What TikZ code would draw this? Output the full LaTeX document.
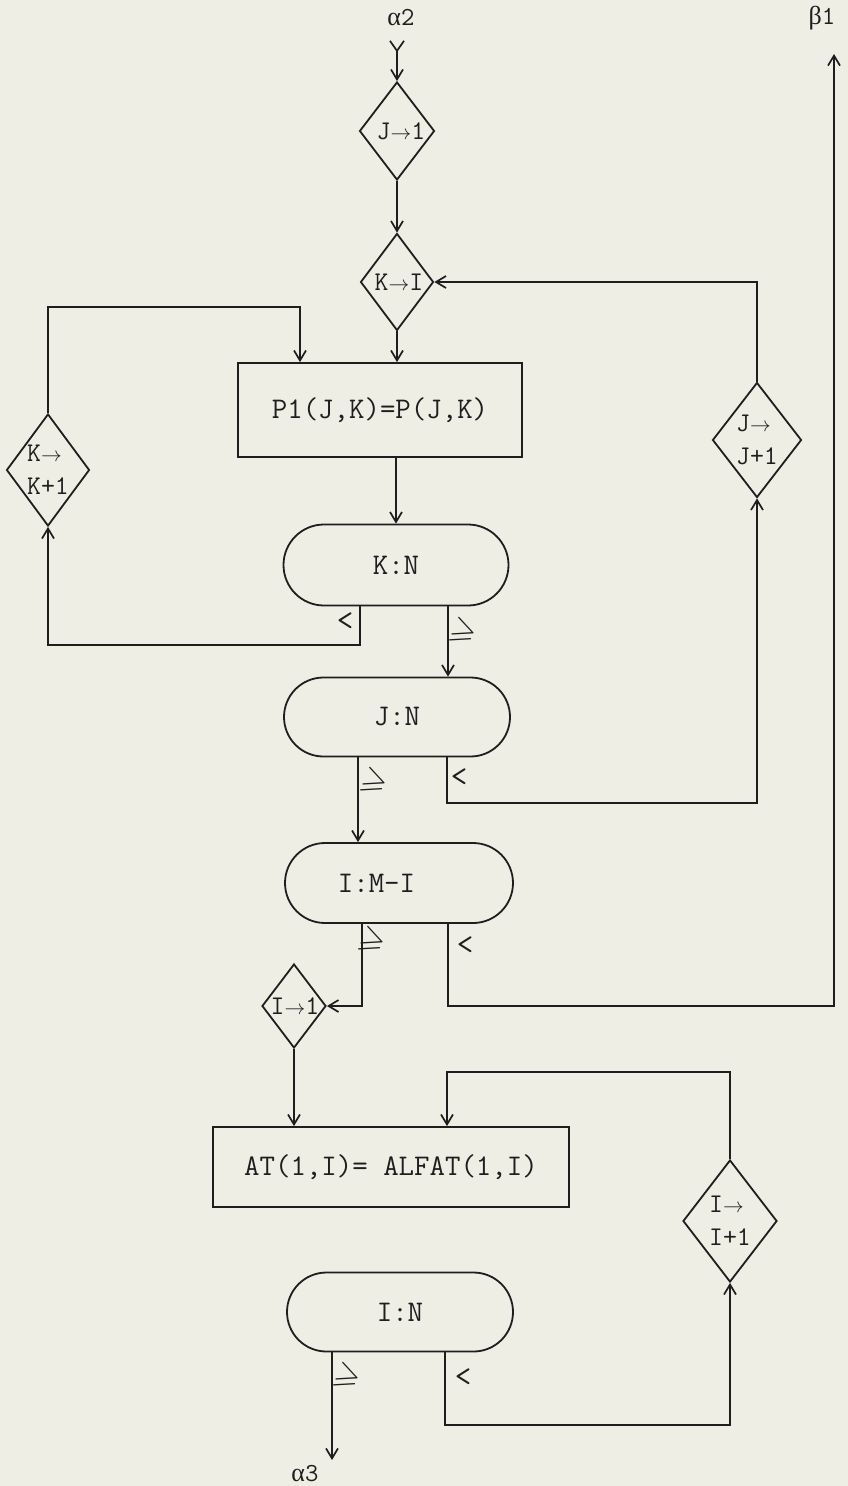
\documentclass[tikz,border=0pt]{standalone}
\usepackage{fontspec}
\usepackage{amssymb}
\usetikzlibrary{shapes.geometric,shapes.misc,arrows.meta}
\newfontfamily\grkfam{Liberation Serif}
\newcommand\boxfnt{\ttfamily\fontsize{30}{34}\selectfont}
\newcommand\diafnt{\ttfamily\fontsize{27}{33}\selectfont}
\newcommand\termfnt{\ttfamily\fontsize{26}{30}\selectfont}
\newcommand\relfnt{\ttfamily\fontsize{32}{34}\selectfont}
\newcommand\smarrow{{\fontsize{20}{20}\selectfont$\rightarrow$}}
\newcommand\grk[1]{{\grkfam\fontsize{26}{30}\selectfont #1}}
\definecolor{paper}{RGB}{239,238,229}
\definecolor{ink}{RGB}{30,30,30}
\begin{document}
\begin{tikzpicture}[x=1pt,y=-1pt,
  line/.style={line width=1.8pt, draw=ink},
  arr/.style={line, -{Straight Barb[length=10pt,width=12pt,line width=1.7pt]}},
  dia/.style={diamond, draw=ink, line width=1.8pt, inner sep=0pt},
  dtxt/.style={font=\diafnt, text=ink, align=left, inner sep=0pt},
  box/.style={rectangle, draw=ink, line width=1.8pt, font=\boxfnt, text=ink, inner sep=0pt},
  stad/.style={rounded rectangle, draw=ink, line width=1.8pt, font=\boxfnt, text=ink, inner sep=0pt},
  termlbl/.style={font=\termfnt, text=ink},
  rel/.style={font=\relfnt, text=ink, inner sep=0pt},
  geq/.style={font=\fontsize{33}{34}\selectfont, text=ink, inner sep=0pt, rotate=-22}]
\fill[paper] (0,0) rectangle (848,1486);
\useasboundingbox (0,0) rectangle (848,1486);

% labels at ends
\node[termlbl] (a2) at (401,18) {\grk{α}2};
\node[termlbl] (b1lbl) at (822,18) {\grk{β}1};
\node[termlbl] (a3) at (305,1474) {\grk{α}3};

% coordinates
\coordinate (a2top) at (397,40);
\coordinate (lp) at (300,307);
\coordinate (c1) at (48,645);
\coordinate (c2) at (757,803);
\coordinate (c3) at (834,1006);
\coordinate (b1) at (834,54);
\coordinate (c4) at (447,1072);
\coordinate (a3end) at (332,1460);
\coordinate (c5) at (730,1425);

% nodes
\node[dia, minimum width=75pt, minimum height=98pt, label={[dtxt]center:{\hspace*{8pt}J\smarrow1}}] (j1) at (397,131) {};
\node[dia, minimum width=73pt, minimum height=97pt, label={[dtxt]center:{\hspace*{4pt}K\smarrow I}}] (ki) at (397,282) {};
\node[box, minimum width=284pt, minimum height=94pt] (p1) at (380,410) {P1(J,K)=P(J,K)};
\node[dia, minimum width=83pt, minimum height=112pt, label={[dtxt]center:{K\smarrow\\K+1}}] (kk1) at (48,470) {};
\node[stad, minimum width=225pt, minimum height=81pt] (kn) at (396,565) {K:N};
\node[stad, minimum width=226pt, minimum height=79pt] (jn) at (397,717) {J:N};
\node[dia, minimum width=89pt, minimum height=115pt, label={[dtxt]center:{J\smarrow\\J+1}}] (jj1) at (757,440) {};
\node[stad, minimum width=228pt, minimum height=80pt] (im) at (399,883) {\hspace*{-45pt}I:M-I};
\node[dia, minimum width=64pt, minimum height=84pt, label={[dtxt]center:{\hspace*{2pt}I\smarrow1}}] (i1) at (294,1006) {};
\node[box, minimum width=356pt, minimum height=80pt] (at) at (391,1167) {AT(1,I)= ALFAT(1,I)};
\node[dia, minimum width=94pt, minimum height=122pt, label={[dtxt]center:{I\smarrow\\I+1}}] (ii1) at (730,1221) {};
\node[stad, minimum width=226pt, minimum height=79pt] (in) at (400,1312) {I:N};

% relation labels
\node[rel] (r1) at (345,622) {<};
\node[geq] (g1) at (463,633) {$\geqslant$};
\node[geq] (g2) at (374,783) {$\geqslant$};
\node[rel] (r2) at (459,778) {<};
\node[geq] (g3) at (372,942) {$\geqslant$};
\node[rel] (r3) at (465,946) {<};
\node[geq] (g4) at (347,1378) {$\geqslant$};
\node[rel] (r4) at (463,1378) {<};

% connectors
\draw[arr, {Straight Barb[reversed,length=10pt,width=14pt,line width=1.7pt]}-{Straight Barb[length=10pt,width=12pt,line width=1.7pt]}] (a2top) -- (j1.north);
\draw[arr] (j1.south) -- (ki.north);
\draw[arr] (ki.south) -- (ki.south |- p1.north);
\draw[arr] (kk1.north) |- (lp) -- (lp |- p1.north);
\draw[arr] (kn.north |- p1.south) -- (kn.north);
\draw[arr] ([xshift=-36pt]kn.south) |- (c1) -- (kk1.south);
\draw[arr] ([xshift=52pt]kn.south) -- ([xshift=52pt]kn.south |- jn.north);
\draw[arr] ([xshift=-39pt]jn.south) -- ([xshift=-39pt]jn.south |- im.north);
\draw[arr] ([xshift=50pt]jn.south) |- (c2) -- (jj1.south);
\draw[arr] (jj1.north) |- (ki.east);
\draw[arr] ([xshift=-37pt]im.south) |- (i1.east);
\draw[arr] ([xshift=49pt]im.south) |- (c3) -- (b1);
\draw[arr] (i1.south) -- (i1.south |- at.north);
\draw[arr] (ii1.north) |- (c4) -- (c4 |- at.north);
\draw[arr] ([xshift=-68pt]in.south) -- (a3end);
\draw[arr] ([xshift=45pt]in.south) |- (c5) -- (ii1.south);
\end{tikzpicture}
\end{document}
